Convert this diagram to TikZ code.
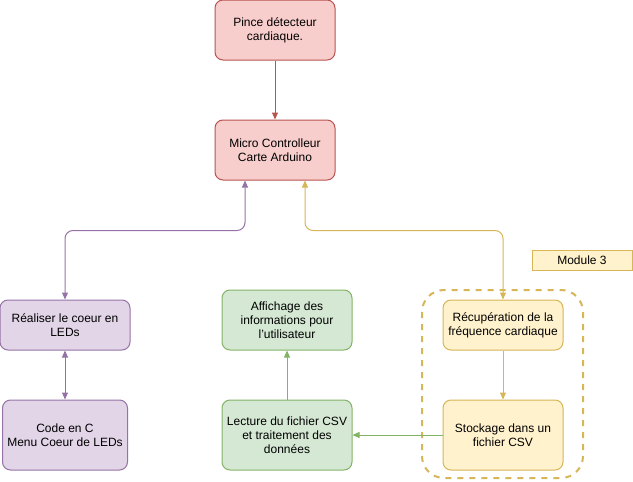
\documentclass[tikz,border=0pt]{standalone}
\usepackage{fontspec}
\setmainfont{Liberation Sans}
\usetikzlibrary{arrows.meta}
\definecolor{redfill}{HTML}{F8CECC}\definecolor{redline}{HTML}{B85450}
\definecolor{purfill}{HTML}{E1D5E7}\definecolor{purline}{HTML}{9673A6}
\definecolor{grefill}{HTML}{D5E8D4}\definecolor{greline}{HTML}{82B366}
\definecolor{yelfill}{HTML}{FFF2CC}\definecolor{yelline}{HTML}{D6B656}
\begin{document}
\begin{tikzpicture}[x=1pt,y=-1pt,>={Triangle[length=7pt,width=6pt]},line width=1pt,
    font=\fontsize{12}{14}\selectfont,
    box/.style={draw,rounded corners=8pt,align=center,inner sep=0pt},
    redbox/.style={box,fill=redfill,draw=redline},
    purbox/.style={box,fill=purfill,draw=purline},
    grebox/.style={box,fill=grefill,draw=greline},
    yelbox/.style={box,fill=yelfill,draw=yelline}]
    \useasboundingbox(0,0)rectangle(633,482);
    % group module 3
    \draw[yelline,line width=2pt,dash pattern=on 6pt off 6pt,rounded corners=22pt](422,290)rectangle(583,478);
    \node[redbox,minimum width=120pt,minimum height=60pt](pince)at(275,30){Pince détecteur\\cardiaque.};
    \node[redbox,minimum width=120pt,minimum height=60pt](micro)at(275,150){Micro Controlleur\\Carte Arduino};
    \node[purbox,minimum width=130pt,minimum height=50pt](leds)at(65,325){Réaliser le coeur en\\LEDs};
    \node[purbox,minimum width=125pt,minimum height=70pt](code)at(65,435){Code en C\\Menu Coeur de LEDs};
    \node[grebox,minimum width=130pt,minimum height=60pt](affich)at(287,320){Affichage des\\informations pour\\l'utilisateur};
    \node[grebox,minimum width=130pt,minimum height=70pt](lecture)at(287,435){Lecture du fichier CSV\\et traitement des\\données};
    \node[yelbox,minimum width=120pt,minimum height=50pt](recup)at(503,325){Récupération de la\\fréquence cardiaque};
    \node[yelbox,minimum width=120pt,minimum height=70pt](stock)at(503,435){Stockage dans un\\fichier CSV};
    \node[draw=yelline,fill=yelfill,minimum width=100pt,minimum height=20pt,inner sep=0pt](module)at(582,260){Module 3};
    \draw[->,redline](pince)--(micro);
    \draw[<->,purline,rounded corners=8pt]([xshift=-30pt]micro.south)--++(0,50)-|(leds.north);
    \draw[<->,purline](leds)--(code);
    \draw[<->,yelline,rounded corners=8pt]([xshift=30pt]micro.south)--++(0,50)-|(recup.north);
    \draw[->,yelline](recup)--(stock);
    \draw[->,greline](stock)--(lecture);
    \draw[->,greline](lecture)--(affich);
\end{tikzpicture}
\end{document}
